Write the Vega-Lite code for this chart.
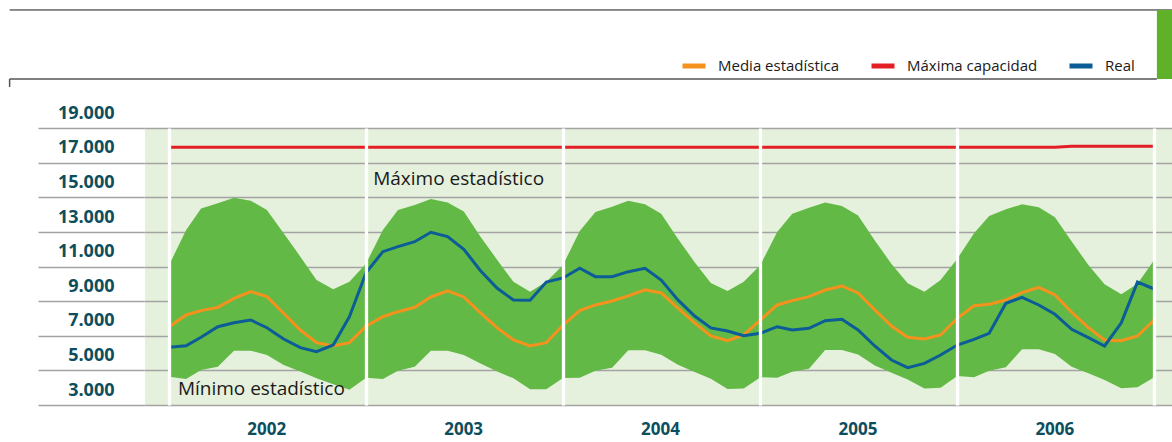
{
  "$schema": "https://vega.github.io/schema/vega-lite/v6.json",
  "width": 1027,
  "height": 277,
  "autosize": {"type": "none"},
  "padding": {"left": 145, "top": 128, "right": 0, "bottom": 37},
  "background": "white",
  "config": {"view": {"fill": "#e5f1dc", "stroke": null}, "font": "Open Sans"},
  "datasets": {
    "serie": [
      {"fecha": "2002-01-01", "maximo": 10100, "minimo": 3635, "Media estadística": 6520, "Máxima capacidad": 16885, "Real": 5333},
      {"fecha": "2002-02-01", "maximo": 12100, "minimo": 3500, "Media estadística": 7200, "Máxima capacidad": 16885, "Real": 5426},
      {"fecha": "2002-03-01", "maximo": 13350, "minimo": 4020, "Media estadística": 7450, "Máxima capacidad": 16885, "Real": 5911},
      {"fecha": "2002-04-01", "maximo": 13650, "minimo": 4210, "Media estadística": 7640, "Máxima capacidad": 16885, "Real": 6523},
      {"fecha": "2002-05-01", "maximo": 13970, "minimo": 5140, "Media estadística": 8160, "Máxima capacidad": 16885, "Real": 6754},
      {"fecha": "2002-06-01", "maximo": 13800, "minimo": 5140, "Media estadística": 8545, "Máxima capacidad": 16885, "Real": 6910},
      {"fecha": "2002-07-01", "maximo": 13260, "minimo": 4890, "Media estadística": 8260, "Máxima capacidad": 16885, "Real": 6466},
      {"fecha": "2002-08-01", "maximo": 11920, "minimo": 4310, "Media estadística": 7300, "Máxima capacidad": 16885, "Real": 5813},
      {"fecha": "2002-09-01", "maximo": 10570, "minimo": 3930, "Media estadística": 6330, "Máxima capacidad": 16885, "Real": 5310},
      {"fecha": "2002-10-01", "maximo": 9220, "minimo": 3540, "Media estadística": 5600, "Máxima capacidad": 16885, "Real": 5079},
      {"fecha": "2002-11-01", "maximo": 8690, "minimo": 3200, "Media estadística": 5410, "Máxima capacidad": 16885, "Real": 5466},
      {"fecha": "2002-12-01", "maximo": 9120, "minimo": 2880, "Media estadística": 5600, "Máxima capacidad": 16885, "Real": 7101},
      {"fecha": "2003-01-01", "maximo": 10180, "minimo": 3580, "Media estadística": 6550, "Máxima capacidad": 16885, "Real": 9650},
      {"fecha": "2003-02-01", "maximo": 12110, "minimo": 3500, "Media estadística": 7100, "Máxima capacidad": 16885, "Real": 10856},
      {"fecha": "2003-03-01", "maximo": 13260, "minimo": 3980, "Media estadística": 7390, "Máxima capacidad": 16885, "Real": 11145},
      {"fecha": "2003-04-01", "maximo": 13550, "minimo": 4210, "Media estadística": 7640, "Máxima capacidad": 16885, "Real": 11434},
      {"fecha": "2003-05-01", "maximo": 13900, "minimo": 5140, "Media estadística": 8240, "Máxima capacidad": 16885, "Real": 11977},
      {"fecha": "2003-06-01", "maximo": 13700, "minimo": 5140, "Media estadística": 8590, "Máxima capacidad": 16885, "Real": 11723},
      {"fecha": "2003-07-01", "maximo": 13170, "minimo": 4890, "Media estadística": 8240, "Máxima capacidad": 16885, "Real": 10995},
      {"fecha": "2003-08-01", "maximo": 11720, "minimo": 4400, "Media estadística": 7315, "Máxima capacidad": 16885, "Real": 9759},
      {"fecha": "2003-09-01", "maximo": 10380, "minimo": 3930, "Media estadística": 6450, "Máxima capacidad": 16885, "Real": 8742},
      {"fecha": "2003-10-01", "maximo": 9120, "minimo": 3540, "Media estadística": 5755, "Máxima capacidad": 16885, "Real": 8066},
      {"fecha": "2003-11-01", "maximo": 8545, "minimo": 2910, "Media estadística": 5410, "Máxima capacidad": 16885, "Real": 8050},
      {"fecha": "2003-12-01", "maximo": 9120, "minimo": 2910, "Media estadística": 5600, "Máxima capacidad": 16885, "Real": 9100},
      {"fecha": "2004-01-01", "maximo": 10090, "minimo": 3560, "Media estadística": 6620, "Máxima capacidad": 16885, "Real": 9340},
      {"fecha": "2004-02-01", "maximo": 12050, "minimo": 3580, "Media estadística": 7450, "Máxima capacidad": 16885, "Real": 9897},
      {"fecha": "2004-03-01", "maximo": 13150, "minimo": 3980, "Media estadística": 7780, "Máxima capacidad": 16885, "Real": 9412},
      {"fecha": "2004-04-01", "maximo": 13450, "minimo": 4150, "Media estadística": 8010, "Máxima capacidad": 16885, "Real": 9412},
      {"fecha": "2004-05-01", "maximo": 13800, "minimo": 5160, "Media estadística": 8300, "Máxima capacidad": 16885, "Real": 9701},
      {"fecha": "2004-06-01", "maximo": 13600, "minimo": 5160, "Media estadística": 8650, "Máxima capacidad": 16885, "Real": 9897},
      {"fecha": "2004-07-01", "maximo": 13050, "minimo": 4900, "Media estadística": 8470, "Máxima capacidad": 16885, "Real": 9220},
      {"fecha": "2004-08-01", "maximo": 11600, "minimo": 4330, "Media estadística": 7600, "Máxima capacidad": 16885, "Real": 8070},
      {"fecha": "2004-09-01", "maximo": 10250, "minimo": 3900, "Media estadística": 6740, "Máxima capacidad": 16885, "Real": 7140},
      {"fecha": "2004-10-01", "maximo": 9050, "minimo": 3520, "Media estadística": 5990, "Máxima capacidad": 16885, "Real": 6450},
      {"fecha": "2004-11-01", "maximo": 8590, "minimo": 2930, "Media estadística": 5715, "Máxima capacidad": 16885, "Real": 6275},
      {"fecha": "2004-12-01", "maximo": 9120, "minimo": 2960, "Media estadística": 6044, "Máxima capacidad": 16885, "Real": 6000},
      {"fecha": "2005-01-01", "maximo": 10090, "minimo": 3600, "Media estadística": 6910, "Máxima capacidad": 16885, "Real": 6142},
      {"fecha": "2005-02-01", "maximo": 12000, "minimo": 3577, "Media estadística": 7780, "Máxima capacidad": 16885, "Real": 6523},
      {"fecha": "2005-03-01", "maximo": 13050, "minimo": 3926, "Media estadística": 8030, "Máxima capacidad": 16885, "Real": 6333},
      {"fecha": "2005-04-01", "maximo": 13400, "minimo": 4100, "Media estadística": 8260, "Máxima capacidad": 16885, "Real": 6431},
      {"fecha": "2005-05-01", "maximo": 13700, "minimo": 5180, "Media estadística": 8640, "Máxima capacidad": 16885, "Real": 6870},
      {"fecha": "2005-06-01", "maximo": 13500, "minimo": 5180, "Media estadística": 8875, "Máxima capacidad": 16885, "Real": 6950},
      {"fecha": "2005-07-01", "maximo": 12950, "minimo": 4920, "Media estadística": 8470, "Máxima capacidad": 16885, "Real": 6333},
      {"fecha": "2005-08-01", "maximo": 11500, "minimo": 4280, "Media estadística": 7490, "Máxima capacidad": 16885, "Real": 5409},
      {"fecha": "2005-09-01", "maximo": 10150, "minimo": 3870, "Media estadística": 6560, "Máxima capacidad": 16885, "Real": 4600},
      {"fecha": "2005-10-01", "maximo": 9030, "minimo": 3480, "Media estadística": 5911, "Máxima capacidad": 16885, "Real": 4157},
      {"fecha": "2005-11-01", "maximo": 8545, "minimo": 2950, "Media estadística": 5813, "Máxima capacidad": 16885, "Real": 4407},
      {"fecha": "2005-12-01", "maximo": 9220, "minimo": 2990, "Media estadística": 6044, "Máxima capacidad": 16885, "Real": 4889},
      {"fecha": "2006-01-01", "maximo": 10450, "minimo": 3675, "Media estadística": 7009, "Máxima capacidad": 16885, "Real": 5466},
      {"fecha": "2006-02-01", "maximo": 11920, "minimo": 3600, "Media estadística": 7737, "Máxima capacidad": 16885, "Real": 5795},
      {"fecha": "2006-03-01", "maximo": 12920, "minimo": 3983, "Media estadística": 7817, "Máxima capacidad": 16885, "Real": 6142},
      {"fecha": "2006-04-01", "maximo": 13300, "minimo": 4176, "Media estadística": 8066, "Máxima capacidad": 16885, "Real": 7875},
      {"fecha": "2006-05-01", "maximo": 13590, "minimo": 5218, "Media estadística": 8488, "Máxima capacidad": 16885, "Real": 8222},
      {"fecha": "2006-06-01", "maximo": 13420, "minimo": 5218, "Media estadística": 8800, "Máxima capacidad": 16885, "Real": 7777},
      {"fecha": "2006-07-01", "maximo": 12840, "minimo": 4946, "Media estadística": 8355, "Máxima capacidad": 16885, "Real": 7240},
      {"fecha": "2006-08-01", "maximo": 11440, "minimo": 4213, "Media estadística": 7355, "Máxima capacidad": 16945, "Real": 6370},
      {"fecha": "2006-09-01", "maximo": 10090, "minimo": 3829, "Media estadística": 6466, "Máxima capacidad": 16945, "Real": 5888},
      {"fecha": "2006-10-01", "maximo": 8970, "minimo": 3444, "Media estadística": 5755, "Máxima capacidad": 16945, "Real": 5408},
      {"fecha": "2006-11-01", "maximo": 8395, "minimo": 2963, "Media estadística": 5715, "Máxima capacidad": 16945, "Real": 6750},
      {"fecha": "2006-12-01", "maximo": 9000, "minimo": 3020, "Media estadística": 5986, "Máxima capacidad": 16945, "Real": 9100},
      {"fecha": "2007-01-01", "maximo": 10380, "minimo": 3600, "Media estadística": 6910, "Máxima capacidad": 16945, "Real": 8700}
    ],
    "notas": [
      {"texto": "Máximo estadístico", "fecha": "2003-01-14", "valor": 15050},
      {"texto": "Mínimo estadístico", "fecha": "2002-01-17", "valor": 2924}
    ]
  },
  "layer": [
    {
      "data": {"name": "serie"},
      "mark": {"type": "area", "color": "#63b946", "interpolate": "linear"},
      "encoding": {
        "x": {
          "field": "fecha", "type": "temporal", "title": null,
          "scale": {"type": "utc", "domain": [{"year": 2001, "month": 11, "date": 17, "utc": true}, {"year": 2007, "month": 2, "date": 3, "utc": true}]},
          "axis": {
            "values": [
              {"year": 2002, "month": 1, "date": 1, "utc": true},
              {"year": 2003, "month": 1, "date": 1, "utc": true},
              {"year": 2004, "month": 1, "date": 1, "utc": true},
              {"year": 2005, "month": 1, "date": 1, "utc": true},
              {"year": 2006, "month": 1, "date": 1, "utc": true},
              {"year": 2007, "month": 1, "date": 1, "utc": true}
            ],
            "tickCount": 30,
            "grid": true, "gridColor": "#ffffff", "gridWidth": 3.3, "gridOpacity": 1,
            "ticks": false, "domain": false, "zindex": 1,
            "labelOffset": 97, "labelPadding": 16,
            "labelExpr": "utcyear(datum.value) >= 2007 ? '' : utcFormat(datum.value, '%Y')",
            "labelFont": "Open Sans", "labelFontWeight": "bold", "labelFontSize": 17, "labelColor": "#0d4e5e",
            "labelOverlap": false, "labelFlush": false, "labelBound": false
          }
        },
        "y": {
          "field": "maximo", "type": "quantitative", "title": null,
          "scale": {"domain": [2000, 18000], "nice": false, "zero": false},
          "axis": {
            "values": [2000, 4000, 6000, 8000, 10000, 12000, 14000, 16000, 18000],
            "tickCount": 30,
            "grid": true, "gridColor": "#a3a3a3", "gridWidth": 1.5, "gridOpacity": 1,
            "ticks": true, "tickSize": 107, "tickColor": "#a3a3a3", "tickWidth": 1.5,
            "domain": false,
            "labelPadding": -76, "labelOffset": -14.8,
            "labelExpr": "replace(format(datum.value + 1000, ','), ',', '.')",
            "labelFont": "Open Sans", "labelFontWeight": "bold", "labelFontSize": 18, "labelColor": "#0d4e5e",
            "labelAlign": "right", "labelBaseline": "middle",
            "labelOverlap": false, "labelFlush": false, "labelBound": false
          }
        },
        "y2": {"field": "minimo"}
      }
    },
    {
      "data": {"name": "serie"},
      "transform": [{"fold": ["Media estadística", "Máxima capacidad", "Real"], "as": ["serie", "valor"]}],
      "mark": {"type": "line", "strokeWidth": 3, "interpolate": "linear"},
      "encoding": {
        "x": {"field": "fecha", "type": "temporal", "title": null},
        "y": {"field": "valor", "type": "quantitative", "title": null},
        "color": {
          "field": "serie", "type": "nominal",
          "scale": {"domain": ["Media estadística", "Máxima capacidad", "Real"], "range": ["#f5921e", "#e31e24", "#0b5c97"]},
          "legend": {
            "orient": "none", "legendX": 535, "legendY": -76, "direction": "horizontal", "title": null,
            "symbolType": "stroke", "symbolStrokeWidth": 5, "symbolSize": 529,
            "labelFont": "Open Sans", "labelFontSize": 15, "labelColor": "#1a1a1a",
            "labelOffset": 10, "columnPadding": 21, "padding": 0,
            "encode": {"symbols": {"update": {"stroke": {"signal": "datum.label == 'Real' ? '#004a5b' : datum.label == 'Media estadística' ? '#ff7a12' : '#e3001b'"}}}}
          }
        }
      }
    },
    {
      "data": {"name": "notas"},
      "mark": {"type": "text", "align": "left", "baseline": "middle", "fontSize": 19, "font": "Open Sans", "color": "#1a1a1a"},
      "encoding": {
        "x": {"field": "fecha", "type": "temporal", "title": null},
        "y": {"field": "valor", "type": "quantitative", "title": null},
        "text": {"field": "texto"}
      }
    },
    {
      "data": {"values": [{}]},
      "mark": {"type": "rule", "color": "#1a1a1a", "strokeWidth": 1, "clip": false},
      "encoding": {
        "x": {"datum": {"year": 2001, "month": 3, "date": 11, "utc": true}, "type": "temporal"},
        "x2": {"datum": {"year": 2007, "month": 2, "date": 3, "utc": true}},
        "y": {"datum": 24817, "type": "quantitative"}
      }
    },
    {
      "data": {"values": [{}]},
      "mark": {"type": "rule", "color": "#555555", "strokeWidth": 1.5, "clip": false},
      "encoding": {
        "x": {"datum": {"year": 2001, "month": 3, "date": 11, "utc": true}, "type": "temporal"},
        "x2": {"datum": {"year": 2007, "month": 1, "date": 6, "utc": true}},
        "y": {"datum": 20831, "type": "quantitative"}
      }
    },
    {
      "data": {"values": [{}]},
      "mark": {"type": "rule", "color": "#555555", "strokeWidth": 1.5, "clip": false},
      "encoding": {
        "x": {"datum": {"year": 2001, "month": 3, "date": 11, "utc": true}, "type": "temporal"},
        "y": {"datum": 20831, "type": "quantitative"},
        "y2": {"datum": 20370}
      }
    },
    {
      "data": {"values": [{}]},
      "mark": {"type": "rect", "color": "#5fb12a", "clip": false},
      "encoding": {
        "x": {"datum": {"year": 2007, "month": 1, "date": 6, "utc": true}, "type": "temporal"},
        "x2": {"datum": {"year": 2007, "month": 2, "date": 3, "utc": true}},
        "y": {"datum": 20831, "type": "quantitative"},
        "y2": {"datum": 24817}
      }
    }
  ]
}
